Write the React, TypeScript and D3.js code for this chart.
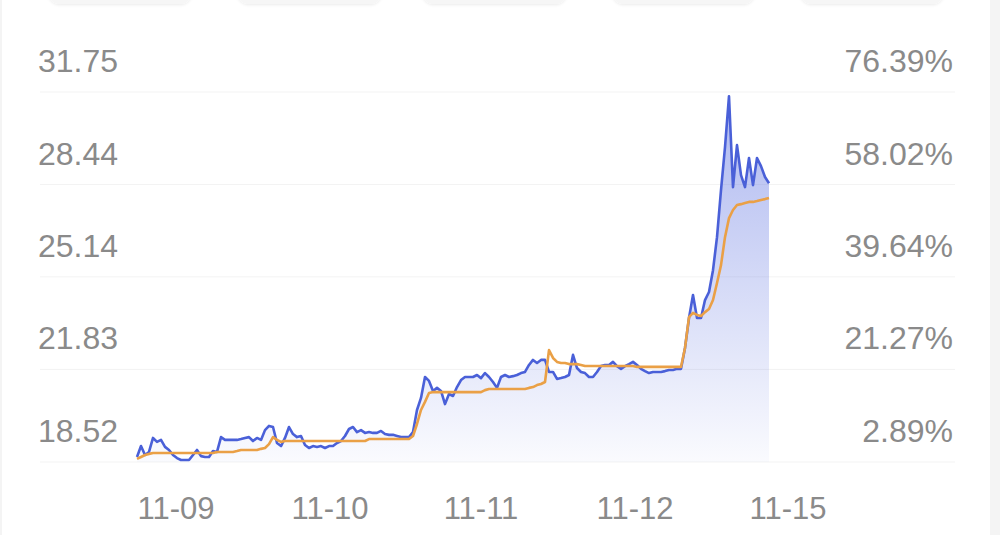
import React from 'react';
import * as d3 from 'd3';

const leftTicks = [18.52, 21.83, 25.14, 28.44, 31.75];
const rightTicks = ['2.89%', '21.27%', '39.64%', '58.02%', '76.39%'];
const xLabels = ['11-09', '11-10', '11-11', '11-12', '11-15'];
const xLabelPos = [9.75, 48.25, 86, 124.5, 162.75];

const price = [
  18.70, 19.09, 18.77, 18.88, 19.38, 19.24, 19.31, 19.06, 18.95, 18.77,
  18.66, 18.59, 18.59, 18.59, 18.77, 18.95, 18.73, 18.70, 18.70, 18.91,
  18.88, 19.41, 19.31, 19.31, 19.31, 19.31, 19.34, 19.38, 19.41, 19.27,
  19.38, 19.31, 19.66, 19.81, 19.77, 19.20, 19.09, 19.38, 19.77, 19.52,
  19.41, 19.45, 19.13, 19.02, 19.09, 19.06, 19.09, 19.02, 19.09, 19.09,
  19.20, 19.27, 19.45, 19.70, 19.77, 19.59, 19.66, 19.56, 19.59, 19.56,
  19.56, 19.63, 19.52, 19.49, 19.49, 19.45, 19.41, 19.41, 19.41, 19.59,
  20.38, 20.81, 21.56, 21.42, 21.06, 21.17, 21.06, 20.59, 20.95, 20.88,
  21.20, 21.45, 21.56, 21.56, 21.56, 21.63, 21.52, 21.70, 21.56, 21.38,
  21.17, 21.56, 21.63, 21.56, 21.59, 21.63, 21.70, 21.74, 21.99, 22.17,
  22.06, 22.17, 22.17, 21.74, 21.74, 21.49, 21.52, 21.56, 21.63, 22.35,
  21.88, 21.74, 21.70, 21.56, 21.56, 21.74, 21.95, 21.99, 21.99, 22.10,
  21.95, 21.85, 21.95, 22.02, 22.10, 21.99, 21.85, 21.77, 21.70, 21.74,
  21.74, 21.74, 21.77, 21.81, 21.81, 21.85, 21.85, 22.60, 23.67, 24.49,
  23.67, 23.67, 24.31, 24.60, 25.38, 26.56, 28.24, 29.78, 31.60, 28.35,
  29.85, 28.78, 28.35, 29.39, 28.42, 29.39, 29.10, 28.71, 28.49,
];

const avg = [
  18.63, 18.70, 18.77, 18.81, 18.84, 18.84, 18.84, 18.84, 18.84, 18.84,
  18.84, 18.84, 18.84, 18.84, 18.84, 18.84, 18.84, 18.84, 18.84, 18.84,
  18.88, 18.88, 18.88, 18.88, 18.88, 18.91, 18.95, 18.95, 18.95, 18.95,
  18.95, 18.99, 19.02, 19.16, 19.41, 19.31, 19.24, 19.27, 19.27, 19.27,
  19.27, 19.27, 19.27, 19.27, 19.27, 19.27, 19.27, 19.27, 19.27, 19.27,
  19.27, 19.27, 19.27, 19.27, 19.27, 19.27, 19.27, 19.27, 19.34, 19.34,
  19.34, 19.34, 19.34, 19.34, 19.34, 19.34, 19.34, 19.34, 19.34, 19.45,
  19.88, 20.38, 20.67, 20.99, 21.02, 21.02, 21.02, 21.02, 21.02, 21.02,
  21.02, 21.02, 21.02, 21.02, 21.02, 21.02, 21.02, 21.09, 21.13, 21.13,
  21.13, 21.13, 21.13, 21.13, 21.13, 21.13, 21.13, 21.13, 21.17, 21.20,
  21.27, 21.31, 21.38, 22.52, 22.24, 22.10, 22.06, 22.06, 22.02, 22.02,
  22.02, 21.99, 21.95, 21.95, 21.95, 21.95, 21.95, 21.95, 21.95, 21.95,
  21.95, 21.95, 21.95, 21.95, 21.95, 21.92, 21.92, 21.92, 21.92, 21.92,
  21.92, 21.92, 21.92, 21.92, 21.92, 21.92, 21.92, 22.60, 23.70, 23.85,
  23.78, 23.74, 23.88, 23.99, 24.31, 24.92, 25.56, 26.56, 27.24, 27.53,
  27.71, 27.74, 27.78, 27.82, 27.82, 27.85, 27.89, 27.92, 27.96,
];

const W = 1000;
const H = 535;
const FONT = '"Liberation Sans", Arial, Helvetica, sans-serif';

export default function App() {
  const x = d3.scaleLinear().domain([0, price.length - 1]).range([137, 769]);
  const y = d3.scaleLinear().domain([leftTicks[0], leftTicks[leftTicks.length - 1]]).range([462, 92]);

  const line = d3
    .line<number>()
    .x((_, i) => x(i))
    .y((d) => y(d));
  const area = d3
    .area<number>()
    .x((_, i) => x(i))
    .y0(y(leftTicks[0]))
    .y1((d) => y(d));

  const buttons = [
    [48, 192],
    [237, 382],
    [422, 567],
    [612, 755],
    [800, 944],
  ];

  return (
    <svg
      width={W}
      height={H}
      style={{ position: 'absolute', left: 0, top: 0, background: '#fff' }}
    >
      <defs>
        <linearGradient id="fillGrad" gradientUnits="userSpaceOnUse" x1="0" y1="92" x2="0" y2="462">
          <stop offset="0" stopColor="#5a6fe0" stopOpacity={0.5} />
          <stop offset="1" stopColor="#5a6fe0" stopOpacity={0.03} />
        </linearGradient>
        <filter id="sh" x="-10%" y="-50%" width="120%" height="200%">
          <feDropShadow dx="0" dy="1" stdDeviation="1.5" floodColor="#000" floodOpacity="0.08" />
        </filter>
      </defs>
      <rect x={0} y={0} width={W} height={H} fill="#fff" />
      <rect x={990} y={0} width={10} height={H} fill="#f4f4f4" />
      <rect x={0} y={0} width={2} height={H} fill="#f4f4f4" />
      {buttons.map(([a, b], i) => (
        <rect key={i} x={a} y={-30} width={b - a} height={34} rx={12} fill="#f6f6f6" filter="url(#sh)" />
      ))}

      {leftTicks.map((t, i) => (
        <line key={i} x1={40} x2={955} y1={y(t)} y2={y(t)} stroke="#f3f3f3" strokeWidth={1} />
      ))}

      <path d={area(price) || ''} fill="url(#fillGrad)" />
      <path d={line(price) || ''} fill="none" stroke="#4a60d8" strokeWidth={2.6} strokeLinejoin="round" />
      <path d={line(avg) || ''} fill="none" stroke="#eaa046" strokeWidth={2.6} strokeLinejoin="round" />

      {leftTicks.map((t, i) => (
        <text
          key={'l' + i}
          x={118}
          y={y(t) - 20}
          textAnchor="end"
          fontFamily={FONT}
          fontSize={32}
          fill="#8a8a8a"
        >
          {t.toFixed(2)}
        </text>
      ))}
      {rightTicks.map((t, i) => (
        <text
          key={'r' + i}
          x={953}
          y={y(leftTicks[i]) - 20}
          textAnchor="end"
          fontFamily={FONT}
          fontSize={32}
          fill="#8a8a8a"
        >
          {t}
        </text>
      ))}
      {xLabels.map((t, i) => (
        <text
          key={'x' + i}
          x={x(xLabelPos[i])}
          y={519}
          textAnchor="middle"
          fontFamily={FONT}
          fontSize={31}
          fill="#8a8a8a"
        >
          {t}
        </text>
      ))}
    </svg>
  );
}
